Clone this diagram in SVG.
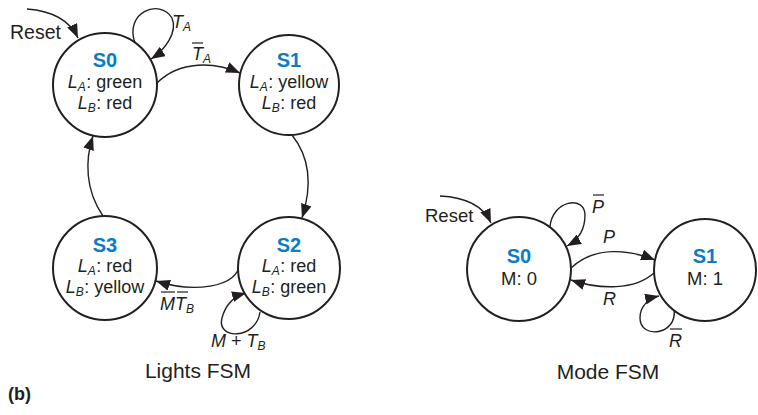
<svg xmlns="http://www.w3.org/2000/svg" width="758" height="415" viewBox="0 0 758 415">
<style>
  text { font-family: "Liberation Sans", Arial, sans-serif; fill: #231f20; }
  .st { fill: #ffffff; stroke: #231f20; stroke-width: 2; }
  .nm { font-weight: bold; font-size: 20px; fill: #0a7bc5; }
  .bd { font-size: 18px; }
  .it { font-style: italic; }
  .sub { font-size: 12px; font-style: italic; }
  .lbl { font-size: 18px; }
  .edge { fill: none; stroke: #231f20; stroke-width: 1.4; marker-end: url(#ah); }
  .bar { stroke: #231f20; stroke-width: 1.2; }
</style>
<defs>
  <marker id="ah" markerUnits="userSpaceOnUse" markerWidth="15" markerHeight="11" refX="14" refY="5.5" orient="auto">
    <path d="M0,0 L14,5.5 L0,11 z" fill="#231f20"/>
  </marker>
</defs>
<rect width="758" height="415" fill="#ffffff"/>

<g id="connectors">
  <!-- Lights FSM -->
  <path class="edge" d="M27,9 Q66,12 78,38"/>
  <path class="edge" d="M135,43 C124,12 160,-2 172,18 C178,32 165,50 151,59"/>
  <path class="edge" d="M157,83 C180,60 215,62 240,73"/>
  <path class="edge" d="M292,135 C312,160 311,190 302,218"/>
  <path class="edge" d="M240,262 C238,290 190,292 156,281"/>
  <path class="edge" d="M260,312 C256,340 216,340 222,318 C226,303 235,296 246,293"/>
  <path class="edge" d="M103,216 C85,190 85,160 93,136"/>
  <!-- Mode FSM -->
  <path class="edge" d="M440,196 Q480,198 491,223"/>
  <path class="edge" d="M550,227 C552,200 585,195 585,215 C585,230 578,240 567,246"/>
  <path class="edge" d="M571,268 C595,245 630,250 655,260"/>
  <path class="edge" d="M654,273 C635,290 600,290 571,280"/>
  <path class="edge" d="M674,309 C678,335 640,340 640,318 C640,305 650,298 659,296"/>
</g>

<g id="edge-labels">
  <text x="10" y="39" style="font-size:19.5px">Reset</text>
  <text x="172" y="28" class="lbl"><tspan class="it">T</tspan><tspan class="sub" dy="3">A</tspan></text>
  <text x="192" y="60" class="lbl"><tspan class="it">T</tspan><tspan class="sub" dy="3">A</tspan></text>
  <line class="bar" x1="192" y1="43" x2="203" y2="43"/>
  <text x="160" y="310" class="lbl"><tspan class="it">MT</tspan><tspan class="sub" dy="3">B</tspan></text>
  <line class="bar" x1="161" y1="292" x2="175" y2="292"/>
  <line class="bar" x1="177" y1="292" x2="188" y2="292"/>
  <text x="211" y="347" class="lbl"><tspan class="it">M</tspan> + <tspan class="it">T</tspan><tspan class="sub" dy="3">B</tspan></text>

  <text x="425" y="222" style="font-size:18.5px">Reset</text>
  <text x="592" y="213" class="lbl it">P</text>
  <line class="bar" x1="593" y1="195" x2="604" y2="195"/>
  <text x="603" y="243" class="lbl it">P</text>
  <text x="603" y="305" class="lbl it">R</text>
  <text x="669" y="347" class="lbl it">R</text>
  <line class="bar" x1="670" y1="329" x2="682" y2="329"/>
</g>

<g id="L-S0">
  <circle class="st" cx="105" cy="85" r="52"/>
  <text x="105" y="67" text-anchor="middle" class="nm">S0</text>
  <text x="105" y="88" text-anchor="middle" class="bd"><tspan class="it">L</tspan><tspan class="sub" dy="2.5">A</tspan><tspan dx="0.5" dy="-2.5">: green</tspan></text>
  <text x="105" y="109" text-anchor="middle" class="bd"><tspan class="it">L</tspan><tspan class="sub" dy="2.5">B</tspan><tspan dx="0.5" dy="-2.5">: red</tspan></text>
</g>
<g id="L-S1">
  <circle class="st" cx="289" cy="85" r="50"/>
  <text x="289" y="67" text-anchor="middle" class="nm">S1</text>
  <text x="289" y="88" text-anchor="middle" class="bd"><tspan class="it">L</tspan><tspan class="sub" dy="2.5">A</tspan><tspan dx="0.5" dy="-2.5">: yellow</tspan></text>
  <text x="289" y="109" text-anchor="middle" class="bd"><tspan class="it">L</tspan><tspan class="sub" dy="2.5">B</tspan><tspan dx="0.5" dy="-2.5">: red</tspan></text>
</g>
<g id="L-S2">
  <circle class="st" cx="289" cy="268" r="51"/>
  <text x="289" y="252" text-anchor="middle" class="nm">S2</text>
  <text x="289" y="272" text-anchor="middle" class="bd"><tspan class="it">L</tspan><tspan class="sub" dy="2.5">A</tspan><tspan dx="0.5" dy="-2.5">: red</tspan></text>
  <text x="289" y="293" text-anchor="middle" class="bd"><tspan class="it">L</tspan><tspan class="sub" dy="2.5">B</tspan><tspan dx="0.5" dy="-2.5">: green</tspan></text>
</g>
<g id="L-S3">
  <circle class="st" cx="105" cy="268" r="52"/>
  <text x="105" y="252" text-anchor="middle" class="nm">S3</text>
  <text x="105" y="272" text-anchor="middle" class="bd"><tspan class="it">L</tspan><tspan class="sub" dy="2.5">A</tspan><tspan dx="0.5" dy="-2.5">: red</tspan></text>
  <text x="105" y="293" text-anchor="middle" class="bd"><tspan class="it">L</tspan><tspan class="sub" dy="2.5">B</tspan><tspan dx="0.5" dy="-2.5">: yellow</tspan></text>
</g>

<g id="M-S0">
  <circle class="st" cx="519" cy="269" r="52"/>
  <text x="519" y="263" text-anchor="middle" class="nm">S0</text>
  <text x="519" y="285" text-anchor="middle" class="bd" style="font-size:18.5px">M: 0</text>
</g>
<g id="M-S1">
  <circle class="st" cx="705" cy="270" r="51"/>
  <text x="705" y="263" text-anchor="middle" class="nm">S1</text>
  <text x="705" y="285" text-anchor="middle" class="bd" style="font-size:18.5px">M: 1</text>
</g>

<g id="captions">
  <text x="198" y="378" text-anchor="middle" style="font-size:21px">Lights FSM</text>
  <text x="608" y="379" text-anchor="middle" style="font-size:21px">Mode FSM</text>
  <text x="8" y="400" style="font-size:18px;font-weight:bold">(b)</text>
</g>
</svg>
